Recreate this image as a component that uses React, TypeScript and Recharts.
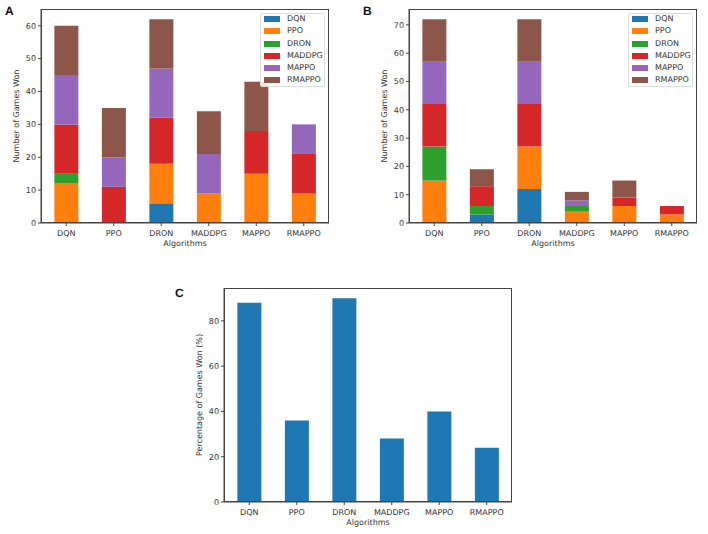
import React from 'react';
import { BarChart, Bar, XAxis, YAxis, Legend } from 'recharts';

const algorithms = ['DQN', 'PPO', 'DRON', 'MADDPG', 'MAPPO', 'RMAPPO'];
const seriesNames = ['DQN', 'PPO', 'DRON', 'MADDPG', 'MAPPO', 'RMAPPO'];
const colors = ['#1f77b4', '#ff7f0e', '#2ca02c', '#d62728', '#9467bd', '#8c564b'];

// games won, one list per opponent series, one value per algorithm
const wonA = [
  [0, 0, 6, 0, 0, 0],
  [12, 0, 12, 9, 15, 9],
  [3, 0, 0, 0, 0, 0],
  [15, 11, 14, 0, 13, 12],
  [15, 9, 15, 12, 0, 9],
  [15, 15, 15, 13, 15, 0],
];
const wonB = [
  [0, 3, 12, 0, 0, 0],
  [15, 0, 15, 4, 6, 3],
  [12, 3, 0, 2, 0, 0],
  [15, 7, 15, 0, 3, 3],
  [15, 0, 15, 2, 0, 0],
  [15, 6, 15, 3, 6, 0],
];
const percentWon = [88, 36, 90, 28, 40, 24];

const ticksA = [0, 10, 20, 30, 40, 50, 60];
const ticksB = [0, 10, 20, 30, 40, 50, 60, 70];
const ticksC = [0, 20, 40, 60, 80];

const FONT = '"DejaVu Sans", sans-serif';
const AXIS = '#444';
const tickStyle = { fontSize: 8, fill: '#333', fontFamily: FONT };

const buildRows = (series: number[][]) =>
  algorithms.map((name, i) => {
    const row: Record<string, string | number> = { name };
    seriesNames.forEach((s, j) => {
      row[s] = series[j][i];
    });
    return row;
  });

const LegendBox = ({ payload }: any) => (
  <div
    style={{
      width: 65,
      height: 74.5,
      boxSizing: 'border-box',
      border: '1px solid #ddd',
      borderRadius: 2,
      background: 'rgba(255,255,255,0.85)',
      position: 'relative',
    }}
  >
    {(payload || []).map((item: any, i: number) => (
      <div key={item.value}>
        <div
          style={{
            position: 'absolute',
            left: 2.5,
            top: 2.6 + i * 12.2,
            width: 16.3,
            height: 6,
            background: item.color,
          }}
        />
        <div
          style={{
            position: 'absolute',
            left: 25.7,
            top: 0.6 + i * 12.2,
            fontFamily: FONT,
            fontSize: 8,
            lineHeight: '10px',
            color: '#333',
          }}
        >
          {item.value}
        </div>
      </div>
    ))}
  </div>
);

interface PanelProps {
  left: number;
  top: number;
  rows: Record<string, string | number>[];
  keys: string[];
  stacked: boolean;
  yMax: number;
  ticks: number[];
  yLabel: string;
  showLegend: boolean;
}

const Panel: React.FC<PanelProps> = ({ left, top, rows, keys, stacked, yMax, ticks, yLabel, showLegend }) => (
  <div style={{ position: 'absolute', left, top }}>
    <BarChart
      width={340}
      height={260}
      data={rows}
      barCategoryGap="25%"
      margin={{ top: 9, right: 11, bottom: 0, left: 0 }}
    >
      <XAxis
        dataKey="name"
        interval={0}
        height={37}
        padding={{ left: 1.5, right: 1.5 }}
        tick={tickStyle}
        tickSize={3}
        tickMargin={4}
        stroke={AXIS}
        label={{ value: 'Algorithms', position: 'insideBottom', offset: 14, style: tickStyle }}
      />
      <YAxis
        width={41}
        domain={[0, yMax]}
        ticks={ticks}
        tick={tickStyle}
        tickSize={3}
        tickMargin={2}
        stroke={AXIS}
        label={{ value: yLabel, angle: -90, position: 'insideLeft', offset: 16, style: { ...tickStyle, textAnchor: 'middle' } }}
      />
      {keys.map((key, i) => (
        <Bar
          key={key}
          dataKey={key}
          name={key}
          stackId={stacked ? 'games' : undefined}
          fill={colors[i]}
          isAnimationActive={false}
        />
      ))}
      {showLegend && (
        <Legend
          content={<LegendBox />}
          itemSorter={null}
          layout="vertical"
          align="center"
          verticalAlign="middle"
          wrapperStyle={{ position: 'absolute', left: 260, top: 12.7, width: 65, height: 74.5, bottom: 'auto', margin: 0 }}
        />
      )}
    </BarChart>
    {/* axes box, the top and right edges have no axis of their own */}
    <div
      style={{
        position: 'absolute',
        left: 41,
        top: 9,
        width: 288,
        height: 214,
        boxSizing: 'border-box',
        border: `1px solid ${AXIS}`,
        pointerEvents: 'none',
      }}
    />
  </div>
);

const letterStyle: React.CSSProperties = {
  position: 'absolute',
  fontFamily: '"Liberation Sans", sans-serif',
  fontWeight: 700,
  fontSize: 12,
  lineHeight: '14px',
  color: '#111',
};

const rowsC = algorithms.map((name, i) => ({ name, value: percentWon[i] }));

export default function App() {
  return (
    <div
      style={{
        position: 'absolute',
        left: 0,
        top: 0,
        width: 708,
        height: 534,
        overflow: 'hidden',
        background: '#fff',
        textRendering: 'geometricPrecision',
      }}
    >
      <Panel left={0.3} top={0} rows={buildRows(wonA)} keys={seriesNames} stacked yMax={65.1} ticks={ticksA} yLabel="Number of Games Won" showLegend />
      <Panel left={368.3} top={0} rows={buildRows(wonB)} keys={seriesNames} stacked yMax={75.6} ticks={ticksB} yLabel="Number of Games Won" showLegend />
      <Panel left={183} top={279.3} rows={rowsC} keys={['value']} stacked={false} yMax={94.5} ticks={ticksC} yLabel="Percentage of Games Won (%)" showLegend={false} />
      <div style={{ ...letterStyle, left: 5, top: 4 }}>A</div>
      <div style={{ ...letterStyle, left: 363, top: 4 }}>B</div>
      <div style={{ ...letterStyle, left: 175, top: 286 }}>C</div>
    </div>
  );
}
